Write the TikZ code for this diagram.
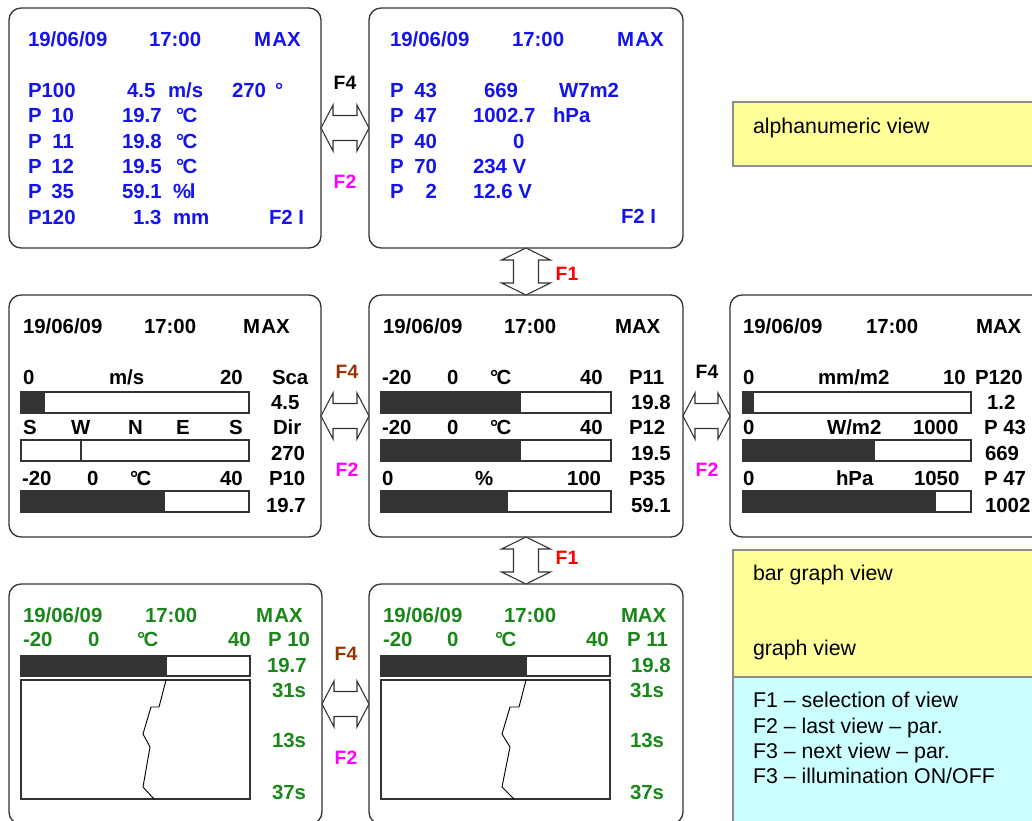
\documentclass[tikz,border=0pt]{standalone}
\usepackage{fontspec}
\setmainfont{Liberation Sans}
\usetikzlibrary{calc}
\definecolor{tblue}{RGB}{20,20,235}
\definecolor{tgreen}{RGB}{25,135,25}
\definecolor{tbrown}{RGB}{153,51,0}
\definecolor{tmag}{RGB}{255,0,255}
\definecolor{tred}{RGB}{255,0,0}
\definecolor{lyellow}{RGB}{255,255,153}
\definecolor{lcyan}{RGB}{204,255,255}
\definecolor{bardark}{RGB}{51,51,51}
\newcounter{tc}
\newcommand\tx[3][]{\stepcounter{tc}\node[lbl,#1] (t\arabic{tc}) at (#2) {#3};}
\newcommand\fl[3]{\stepcounter{tc}\node[flbl,text=#3] (f\arabic{tc}) at (#1) {#2};}
\newcommand\barbox[5]{\fill[bardark] (#1,#2) rectangle (#5,#4); \draw[barline] (#1,#2) rectangle (#3,#4);}
\newcommand\degc{°\kern-1.2pt C}
\newcommand\harr[2]{\draw[blockarrow] (#1.east) -- ($(#1.east)+(12,-23)$) -- ($(#1.east)+(12,-12.5)$) -- ($(#2.west)+(-12,-12.5)$) -- ($(#2.west)+(-12,-23)$) -- (#2.west) -- ($(#2.west)+(-12,23)$) -- ($(#2.west)+(-12,12.5)$) -- ($(#1.east)+(12,12.5)$) -- ($(#1.east)+(12,23)$) -- cycle;}
\newcommand\varr[2]{\draw[blockarrow] (#1.south) -- ($(#1.south)+(24.5,12)$) -- ($(#1.south)+(12.5,12)$) -- ($(#2.north)+(12.5,-12)$) -- ($(#2.north)+(24.5,-12)$) -- (#2.north) -- ($(#2.north)+(-24.5,-12)$) -- ($(#2.north)+(-12.5,-12)$) -- ($(#1.south)+(-12.5,12)$) -- ($(#1.south)+(-24.5,12)$) -- cycle;}
\tikzset{
  lbl/.style={anchor=base west, inner sep=0pt, outer sep=0pt, font=\bfseries\fontsize{15.3}{18}\selectfont},
  rlbl/.style={anchor=base east},
  leg/.style={font=\mdseries\fontsize{16}{19}\selectfont},
  flbl/.style={anchor=center, inner sep=0pt, font=\bfseries\fontsize{14.5}{17}\selectfont},
  panel/.style={draw=black!80, line width=1pt, fill=white, rounded corners=9pt, inner sep=0pt, outer sep=0pt},
  barline/.style={draw=black!80, line width=0.8pt},
  blockarrow/.style={draw=black!80, line width=0.8pt, fill=white, line join=miter},
  legbox/.style={draw=black!45, line width=1.2pt},
}
\begin{document}
\begin{tikzpicture}[x=0.75pt, y=-0.75pt]
\useasboundingbox (0,0) rectangle (1032,821);
\clip (0,0) rectangle (1032,821);
\fill[white] (0,0) rectangle (1032,821);

% legend boxes
\fill[lyellow] (733,102) rectangle (1045,166);
\draw[legbox] (1045,102) -- (733,102) -- (733,166) -- (1045,166);
\fill[lyellow] (733,550) rectangle (1045,677);
\fill[lcyan] (733,677) rectangle (1045,830);
\draw[legbox] (1045,550) -- (733,550) -- (733,830);
\draw[legbox] (733,677) -- (1045,677);
\tx[leg]{753,133}{alphanumeric view}
\tx[leg]{753,580}{bar graph view}
\tx[leg]{753,655}{graph view}
\tx[leg]{753,707}{F1 – selection of view}
\tx[leg]{753,733}{F2 – last view – par.}
\tx[leg]{753,758}{F3 – next view – par.}
\tx[leg]{753,783}{F3 – illumination ON/OFF}

% panels
\node[panel, minimum width=312*0.75pt, minimum height=240*0.75pt] (A1) at (165,128) {};
\node[panel, minimum width=314*0.75pt, minimum height=240*0.75pt] (A2) at (526,128) {};
\node[panel, minimum width=312*0.75pt, minimum height=242*0.75pt] (B1) at (165,416) {};
\node[panel, minimum width=314*0.75pt, minimum height=242*0.75pt] (B2) at (526,416) {};
\node[panel, minimum width=322*0.75pt, minimum height=242*0.75pt] (B3) at (891,416) {};
\node[panel, minimum width=313*0.75pt, minimum height=240*0.75pt] (C1) at (165.5,704) {};
\node[panel, minimum width=314*0.75pt, minimum height=240*0.75pt] (C2) at (526,704) {};

% top-left panel (blue)
\begin{scope}[every node/.append style={text=tblue}]
\tx{28,46}{19/06/09} \tx{149,46}{17:00} \tx{254,46}{M\kern1pt AX}
\tx{28,97}{P100} \tx{127,97}{4.5} \tx{168,97}{m/s} \tx{232,97}{270} \tx{275,97}{°}
\tx{28,122}{P} \tx[rlbl]{74,122}{10} \tx{122,122}{19.7} \tx{176,122}{\degc}
\tx{28,148}{P} \tx[rlbl]{74,148}{11} \tx{122,148}{19.8} \tx{176,148}{\degc}
\tx{28,173}{P} \tx[rlbl]{74,173}{12} \tx{122,173}{19.5} \tx{176,173}{\degc}
\tx{28,198}{P} \tx[rlbl]{74,198}{35} \tx{122,198}{59.1} \tx{173,198}{\%\kern-1pt l}
\tx{28,224}{P120} \tx{133,224}{1.3} \tx{173,224}{mm} \tx{269,224}{F2 I}
\end{scope}

% top-middle panel (blue)
\begin{scope}[every node/.append style={text=tblue}]
\tx{390,46}{19/06/09} \tx{512,46}{17:00} \tx{617,46}{M\kern1pt AX}
\tx{390,97}{P} \tx[rlbl]{437,97}{43} \tx{484,97}{669} \tx{559,97}{W7m2}
\tx{390,122}{P} \tx[rlbl]{437,122}{47} \tx{473,122}{1002.7} \tx{553,122}{hPa}
\tx{390,148}{P} \tx[rlbl]{437,148}{40} \tx{513,148}{0}
\tx{390,173}{P} \tx[rlbl]{437,173}{70} \tx{473,173}{234 V}
\tx{390,198}{P} \tx[rlbl]{437,198}{2} \tx{473,198}{12.6 V}
\tx{621,223}{F2 I}
\end{scope}

% middle-left panel
\tx{23,333}{19/06/09} \tx{144,333}{17:00} \tx{243,333}{M\kern1pt AX}
\tx{23,384}{0} \tx{109,384}{m/s} \tx{220,384}{20} \tx{272,384}{Sca}
\barbox{21}{392}{249}{413}{45}
\tx{271,409}{4.5}
\tx{23,434}{S} \tx{71,434}{W} \tx{128,434}{N} \tx{176,434}{E} \tx{229,434}{S} \tx{273,434}{Dir}
\draw[barline] (21,440) rectangle (249,461);
\draw[barline] (81,440) -- (81,461);
\tx{271,460}{270}
\tx{22,485}{-20} \tx{87,485}{0} \tx{130,485}{\degc} \tx{220,485}{40} \tx{269,485}{P10}
\barbox{21}{491}{249}{512}{165}
\tx{266,512}{19.7}

% middle-center panel
\tx{383,333}{19/06/09} \tx{504,333}{17:00} \tx{615,333}{MAX}
\tx{382,384}{-20} \tx{447,384}{0} \tx{490,384}{\degc} \tx{580,384}{40} \tx{629,384}{P11}
\barbox{381}{392}{611}{413}{521}
\tx{631,409}{19.8}
\tx{382,434}{-20} \tx{447,434}{0} \tx{490,434}{\degc} \tx{580,434}{40} \tx{629,434}{P12}
\barbox{381}{440}{611}{461}{521}
\tx{631,460}{19.5}
\tx{382,485}{0} \tx{475,485}{\%} \tx{567,485}{100} \tx{629,485}{P35}
\barbox{381}{491}{611}{512}{508}
\tx{631,512}{59.1}

% middle-right panel
\tx{743,333}{19/06/09} \tx{866,333}{17:00} \tx{976,333}{MAX}
\tx{743,384}{0} \tx{818,384}{mm/m2} \tx{943,384}{10} \tx{975,384}{P120}
\barbox{743}{392}{971}{413}{754}
\tx{987,409}{1.2}
\tx{743,434}{0} \tx{827,434}{W/m2} \tx{913,434}{1000} \tx{984,434}{P 43}
\barbox{743}{440}{971}{461}{875}
\tx{985,460}{669}
\tx{743,485}{0} \tx{836,485}{hPa} \tx{914,485}{1050} \tx{984,485}{P 47}
\barbox{743}{491}{971}{512}{936}
\tx{985,512}{1002}

% bottom-left panel (green)
\begin{scope}[every node/.append style={text=tgreen}]
\tx{23,622}{19/06/09} \tx{145,622}{17:00} \tx{256,622}{M\kern1pt AX}
\tx{23,646}{-20} \tx{88,646}{0} \tx{137,646}{\degc} \tx{228,646}{40} \tx{268,646}{P 10}
\tx{267,672}{19.7}
\tx{272,697}{31s} \tx{272,747}{13s} \tx{272,799}{37s}
\end{scope}
\barbox{21}{656}{250}{676}{167}
\draw[barline] (21,680) rectangle (250,799);
\draw[line width=0.7pt] (166,680) -- (159,707) -- (151,707) -- (143,734) -- (150,747) -- (143,787) -- (154,799);

% bottom-center panel (green)
\begin{scope}[every node/.append style={text=tgreen}]
\tx{383,622}{19/06/09} \tx{504,622}{17:00} \tx{621,622}{MAX}
\tx{383,646}{-20} \tx{447,646}{0} \tx{495,646}{\degc} \tx{586,646}{40} \tx{627,646}{P 11}
\tx{631,672}{19.8}
\tx{630,697}{31s} \tx{630,747}{13s} \tx{630,799}{37s}
\end{scope}
\barbox{381}{656}{610}{676}{527}
\draw[barline] (381,680) rectangle (610,799);
\draw[line width=0.7pt] (526,680) -- (519,707) -- (510,707) -- (502,734) -- (510,747) -- (502,787) -- (514,799);

% block arrows
\harr{A1}{A2}
\harr{B1}{B2}
\harr{B2}{B3}
\harr{C1}{C2}
\varr{A2}{B2}
\varr{B2}{C2}

% key labels
\fl{345,83}{F4}{black}
\fl{345,182}{F2}{tmag}
\fl{347,372}{F4}{tbrown}
\fl{347,470}{F2}{tmag}
\fl{707,372}{F4}{black}
\fl{707,470}{F2}{tmag}
\fl{346,654}{F4}{tbrown}
\fl{346,758}{F2}{tmag}
\fl{567,274}{F1}{tred}
\fl{567,558}{F1}{tred}
\end{tikzpicture}
\end{document}
